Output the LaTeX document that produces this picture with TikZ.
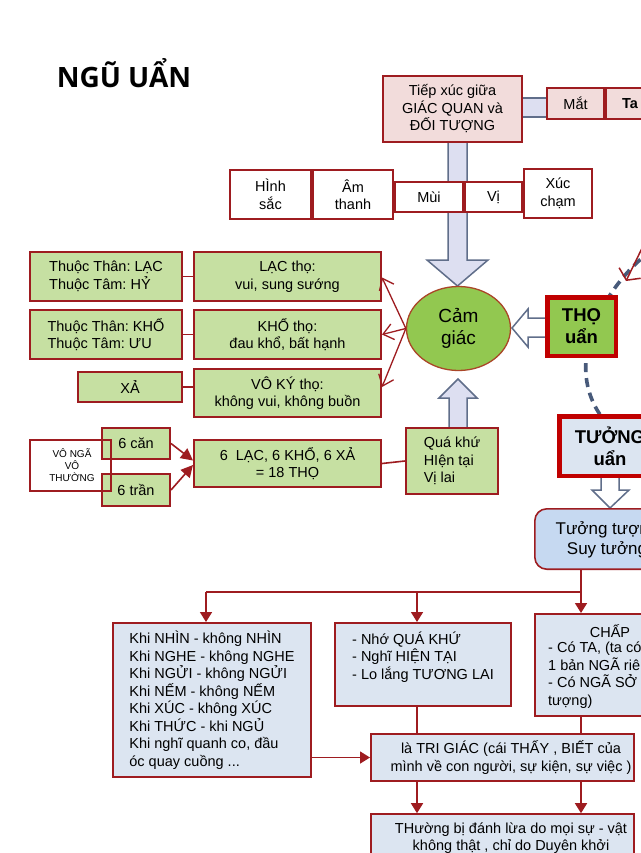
\documentclass[tikz,border=0pt]{standalone}
\usepackage{fontspec}
\setmainfont{Liberation Sans}
\newfontfamily\titlefont{Open Sans}
\usetikzlibrary{arrows.meta,calc,shapes.geometric}
\pgfdeclarelayer{background}
\pgfsetlayers{background,main}
\definecolor{dred}{RGB}{158,28,32}
\definecolor{tred}{RGB}{192,0,0}
\definecolor{lgreen}{RGB}{198,224,162}
\definecolor{mgreen}{RGB}{146,200,80}
\definecolor{lpink}{RGB}{242,220,219}
\definecolor{lblue}{RGB}{220,229,241}
\definecolor{mblue}{RGB}{198,217,241}
\definecolor{lavc}{RGB}{221,223,241}
\definecolor{gblue}{RGB}{96,110,138}
\definecolor{dashc}{RGB}{72,90,122}
\definecolor{ellc}{RGB}{170,70,40}
\frenchspacing
\begin{document}
\frenchspacing
\begin{tikzpicture}[x=1pt,y=-1pt,
  body/.style={font=\fontsize{14.5}{17.5}\selectfont},
  txt/.style={inner sep=0pt, align=left, body},
  box/.style={draw=dred, line width=1.6pt, inner sep=0pt, align=center, body},
  gbox/.style={box, fill=lgreen},
  pbox/.style={box, fill=lpink},
  wbox/.style={box, fill=white},
  bbox/.style={box, fill=lblue},
  thickbox/.style={draw=tred, line width=4.5pt, inner sep=0pt, align=center,
     font=\bfseries\fontsize{18.5}{22}\selectfont},
  rl/.style={draw=dred, line width=1.6pt},
  redarrow/.style={rl, -{Triangle[length=10pt,width=12pt]}},
  openarrow/.style={draw=dred, line width=1.3pt, -{Straight Barb[length=10pt,width=16pt]}},
  lavarrow/.style={draw=gblue, line width=1.5pt, fill=lavc, line join=miter},
  hollowarrow/.style={draw=gblue, line width=1.5pt, fill=white, line join=miter},
  gbl/.style={draw=gblue, line width=1.5pt},
  dashline/.style={draw=dashc, line width=3.6pt, dash pattern=on 9pt off 6pt}
]
\useasboundingbox (0,0) rectangle (640,853);

% title
\node[inner sep=0pt, font=\titlefont\bfseries\fontsize{28}{32}\selectfont] (title) at (124,73) {NGŨ UẨN};

% top
\node[pbox, minimum width=139.4pt, minimum height=66.4pt] (tiep) at (452.5,109) {Tiếp xúc giữa\\GIÁC QUAN và\\ĐỐI TƯỢNG};
\node[pbox, minimum width=57.4pt, minimum height=31.4pt] (mat) at (575.5,103.5) {Mắt};
\node[pbox, minimum width=93.4pt, minimum height=31.4pt] (tai) at (652.5,103.5) {};
\node[txt, anchor=west, font=\bfseries\fontsize{14.5}{17.5}\selectfont] (taitxt) at (622,103.5) {Ta};

% senses
\node[wbox, minimum width=81.4pt, minimum height=49.4pt] (hinh) at (270.5,194.5) {HÌnh\\sắc};
\node[wbox, minimum width=80.4pt, minimum height=49.4pt] (am) at (353,194.5) {Âm\\thanh};
\node[wbox, minimum width=68.4pt, minimum height=30.4pt] (mui) at (429,197) {Mùi};
\node[wbox, minimum width=57.4pt, minimum height=30.4pt] (vi) at (493.5,197) {Vị};
\node[wbox, minimum width=68.4pt, minimum height=49.4pt] (xuc) at (558,193.5) {Xúc\\chạm};

% green rows
\node[gbox, minimum width=152.4pt, minimum height=49.4pt, align=left] (l1) at (106,276.5) {Thuộc Thân: LẠC\\Thuộc Tâm: HỶ};
\node[gbox, minimum width=187.4pt, minimum height=49.4pt] (r1) at (287.5,276.5) {LẠC thọ:\\vui, sung sướng};
\node[gbox, minimum width=152.4pt, minimum height=49.4pt, align=left] (l2) at (106,334.5) {Thuộc Thân: KHỔ\\Thuộc Tâm: ƯU};
\node[gbox, minimum width=187.4pt, minimum height=49.4pt] (r2) at (287.5,334.5) {KHỔ thọ:\\đau khổ, bất hạnh};
\node[gbox, minimum width=104.4pt, minimum height=30.4pt] (l3) at (130,387) {XẢ};
\node[gbox, minimum width=187.4pt, minimum height=48.4pt] (r3) at (287.5,393) {VÔ KÝ thọ:\\không vui, không buồn};
\draw[rl] (l1.east) -- (r1.west);
\draw[rl] (l2.east) -- (r2.west);
\draw[rl] (l3.east) -- (l3.east -| r3.west);

% cam giac
\node[ellipse, draw=ellc, line width=1.3pt, fill=mgreen, inner sep=0pt,
  minimum width=104pt, minimum height=84pt, align=center,
  font=\fontsize{19}{22}\selectfont] (cg) at (458.5,328.5) {Cảm\\giác};
\draw[openarrow] (cg.west) -- ([yshift=-1pt]r1.east);
\draw[openarrow] (cg.west) -- (r2.east);
\draw[openarrow] (cg.west) -- ([yshift=6pt]r3.east);

% THO
\node[thickbox, fill=mgreen, minimum width=68.5pt, minimum height=58.5pt] (tho) at (581.5,326.5) {THỌ\\uẩn};
\coordinate (d1) at (652,250);
\coordinate (d2) at (604,420);
\coordinate (rf) at (648,236);
\coordinate (rt) at (626,281);
\draw[draw=dred, line width=1.5pt, -{Straight Barb[length=8pt,width=24pt]}] (rf) -- (rt);

% TUONG
\node[thickbox, fill=lblue, minimum width=101.5pt, minimum height=59.5pt] (tuong) at (610,446) {TƯỞNG\\uẩn};
\node[box, fill=mblue, rounded corners=12pt, minimum width=150.4pt, minimum height=60.4pt,
  font=\fontsize{17}{20}\selectfont] (tt) at (610,539) {};
\node[inner sep=0pt, align=center, font=\fontsize{17}{20}\selectfont] (ttt) at (607,540) {Tưởng tượng\\Suy tưởng};

% bottom-left green
\node[gbox, minimum width=68.4pt, minimum height=31.4pt] (c6) at (136,443.5) {6 căn};
\node[gbox, minimum width=68.4pt, minimum height=32.4pt] (t6) at (136,490) {6 trần};
\node[draw=dred, line width=1.6pt, minimum width=81.4pt, minimum height=51.4pt, inner sep=0pt] (vn) at (70.5,465.5) {};
\node[inner sep=0pt, align=center, font=\fontsize{10}{12}\selectfont] (vnt) at (72,465) {VÔ NGÃ\\VÔ\\THƯỜNG};
\node[gbox, minimum width=187.4pt, minimum height=47.4pt] (six) at (287.5,463.5) {6~~LẠC, 6 KHỔ, 6 XẢ\\= 18 THỌ};
\draw[rl, -{Triangle[length=12pt,width=12pt]}] (c6.east) -- ([yshift=3pt]six.west);
\draw[rl, -{Triangle[length=12pt,width=12pt]}] (t6.east) -- ([yshift=-1.5pt]six.west);
\node[gbox, minimum width=92.4pt, minimum height=66.4pt, align=left] (qk) at (452,461) {Quá khứ\\HIện tại\\Vị lai};
\draw[rl] (six.east) -- (qk.west);

% lower tree
\node[bbox, minimum width=198.4pt, minimum height=154.4pt, align=left] (khi) at (212,700)
 {Khi NHÌN - không NHÌN\\Khi NGHE - không NGHE\\Khi NGỬI - không NGỬI\\Khi NẾM - không NẾM\\Khi XÚC - không XÚC\\Khi THỨC - khi NGỦ\\Khi nghĩ quanh co, đầu\\óc quay cuồng ...};
\node[bbox, minimum width=176.4pt, minimum height=83.4pt] (mid) at (423,664.5) {};
\node[txt] (midt) at (423,657) {- Nhớ QUÁ KHỨ\\- Nghĩ HIỆN TẠI\\- Lo lắng TƯƠNG LAI};
\node[bbox, minimum width=164.4pt, minimum height=102.4pt] (chap) at (617,665) {};
\node[txt] (chapt1) at (610,631) {CHẤP};
\node[txt, anchor=west] (chapt) at (548,675) {- Có TA, (ta có\\1 bản NGÃ riêng\\- Có NGÃ SỞ\\tượng)};
\node[bbox, minimum width=263.4pt, minimum height=47.4pt] (trig) at (502.5,757.5) {};
\node[inner sep=0pt, align=center, font=\fontsize{14.5}{18.5}\selectfont] (trigt) at (511,757.5) {là TRI GIÁC (cái THẤY , BIẾT của\\mình về con người, sự kiện, sự việc )};
\node[bbox, minimum width=263.4pt, minimum height=56pt] (bot) at (502.5,842) {};
\node[inner sep=0pt, align=center, font=\fontsize{14.5}{17}\selectfont] (bott) at (511,838.5) {THường bị đánh lừa do mọi sự - vật\\không thật , chỉ do Duyên khởi};

\coordinate (s1) at (581,592);
\coordinate (s2) at (417,592);
\coordinate (s3) at (206,592);
\draw[rl] (tt.south -| s1) -- (s1) -- (s3);
\draw[redarrow] (s1) -- (s1 |- chap.north);
\draw[redarrow] (s2) -- (s2 |- mid.north);
\draw[redarrow] (s3) -- (s3 |- khi.north);
\draw[rl] (s2 |- mid.south) -- (s2 |- trig.north);
\draw[rl] (s1 |- chap.south) -- (s1 |- trig.north);
\draw[redarrow] (khi.east |- trig.west) -- (trig.west);
\draw[redarrow] (s2 |- trig.south) -- (s2 |- bot.north);
\draw[redarrow] (s1 |- trig.south) -- (s1 |- bot.north);

\begin{pgfonlayer}{background}
 \fill[white] (0,0) rectangle (640,853);
 \fill[lavc] (tiep.east |- 0,98) rectangle (mat.west |- 0,117);
 \draw[gbl] (tiep.east |- 0,98) -- (mat.west |- 0,98) (tiep.east |- 0,117) -- (mat.west |- 0,117);
 \draw[lavarrow] (448,140) -- (448,260) -- (427,260) -- (457.5,286) -- (488,260) -- (467,260) -- (467,140);
 \draw[lavarrow] (449,430) -- (449,398) -- (439,398) -- (458,379) -- (477,398) -- (467,398) -- (467,430);
 \draw[hollowarrow] (548,318) -- (528,318) -- (528,309) -- (512,328) -- (528,347) -- (528,337) -- (548,337);
 \draw[hollowarrow] (601,474) -- (601,490) -- (592,490) -- (610,508) -- (629,490) -- (619,490) -- (619,474);
 \draw[dashline] (d1) .. controls (608,282) and (558,362) .. (d2);
\end{pgfonlayer}
\end{tikzpicture}
\end{document}
